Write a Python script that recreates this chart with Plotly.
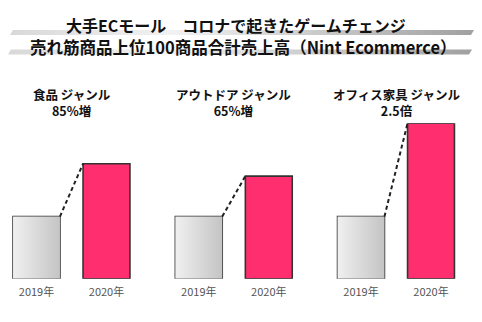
import plotly.graph_objects as go

# ---- data ----
genres = ["食品 ジャンル", "アウトドア ジャンル", "オフィス家具 ジャンル"]
growth_labels = ["85%増", "65%増", "2.5倍"]
years = ["2019年", "2020年"]
sales_2019 = [100, 100, 100]
sales_2020 = [185, 165, 250]
title_line1 = "大手ECモール　コロナで起きたゲームチェンジ"
title_line2 = "売れ筋商品上位100商品合計売上高（Nint Ecommerce）"

W, H = 482, 322
FONT = "Noto Sans CJK JP"
PINK = "#ff2e6e"
EDGE = "#333333"
BAR_W = 0.67

# group x-domains in pixels
group_dom_px = [(1.5, 141.5), (163.8, 303.8), (326.0, 466.0)]
y_dom = [1 - 278.7 / H, 1 - 123.3 / H]

fig = go.Figure()

# decorative stripes under titles (pixel axis) - drawn first
stripes = [
    ([13, 474, 471, 10, 13], [30, 30, 35, 35, 30]),
    ([11, 472, 469, 8, 11], [49.5, 49.5, 54.5, 54.5, 49.5]),
]
for sx, sy in stripes:
    fig.add_trace(go.Scatter(
        x=sx, y=sy, fill="toself", mode="none",
        fillgradient=dict(type="horizontal",
                          colorscale=[[0, "#d8d8d8"], [0.35, "#f2f2f2"], [1, "#a0a0a0"]]),
        hoverinfo="skip", showlegend=False, xaxis="x4", yaxis="y4"))

for i in range(3):
    xa = "x" if i == 0 else f"x{i+1}"
    ya = "y" if i == 0 else f"y{i+1}"
    v19, v20 = sales_2019[i], sales_2020[i]
    # gradient fill for 2019 bar
    fig.add_trace(go.Scatter(
        x=[-BAR_W / 2, BAR_W / 2, BAR_W / 2, -BAR_W / 2, -BAR_W / 2],
        y=[0, 0, v19, v19, 0],
        fill="toself", mode="none",
        fillgradient=dict(type="horizontal",
                          colorscale=[[0, "#f0f0f0"], [1, "#c4c4c4"]]),
        hoverinfo="skip", showlegend=False, xaxis=xa, yaxis=ya))
    fig.add_trace(go.Bar(
        x=[0, 1], y=[v19, v20], width=BAR_W,
        marker=dict(color=["rgba(0,0,0,0)", PINK],
                    line=dict(color=EDGE, width=1.6)),
        showlegend=False, xaxis=xa, yaxis=ya))
    fig.add_trace(go.Scatter(
        x=[BAR_W / 2, 1 - BAR_W / 2], y=[v19, v20], mode="lines",
        line=dict(color="#222222", width=2, dash="4px,3px"),
        showlegend=False, hoverinfo="skip", xaxis=xa, yaxis=ya))

    x0, x1 = group_dom_px[i]
    suffix = "" if i == 0 else str(i + 1)
    fig.layout["xaxis" + suffix] = dict(
        domain=[x0 / W, x1 / W], range=[-0.5, 1.5],
        tickvals=[0, 1], ticktext=years, showgrid=False, zeroline=False,
        showline=False, ticks="", ticklabelstandoff=5,
        tickfont=dict(size=11, color="#555555", family=FONT),
        anchor=ya, fixedrange=True)
    fig.layout["yaxis" + suffix] = dict(
        domain=y_dom, range=[0, 250], visible=False, anchor=xa, fixedrange=True)

    cx = (x0 + x1) / 2 / W
    fig.add_annotation(x=cx, y=1 - 102.8 / H, xref="paper", yref="paper",
                       text=f"<b>{genres[i]}</b><br><b>{growth_labels[i]}</b>",
                       showarrow=False, align="center",
                       font=dict(size=12.5, color="#111111", family=FONT),
                       xanchor="center", yanchor="middle")

fig.layout["xaxis4"] = dict(domain=[0, 1], range=[0, W], visible=False, anchor="y4", fixedrange=True)
fig.layout["yaxis4"] = dict(domain=[0, 1], range=[H, 0], visible=False, anchor="x4", fixedrange=True)

fig.add_annotation(x=236 / W, y=1 - 25 / H, xref="paper", yref="paper",
                   text=f"<b>{title_line1}</b>", showarrow=False,
                   font=dict(size=16, color="#111111", family=FONT),
                   xanchor="center", yanchor="middle")
fig.add_annotation(x=243.5 / W, y=1 - 46.5 / H, xref="paper", yref="paper",
                   text=f"<b>{title_line2}</b>", showarrow=False,
                   font=dict(size=16.5, color="#111111", family=FONT),
                   xanchor="center", yanchor="middle")

fig.update_layout(
    width=W, height=H, margin=dict(l=0, r=0, t=0, b=0),
    paper_bgcolor="white", plot_bgcolor="rgba(0,0,0,0)",
    barmode="overlay", showlegend=False,
    font=dict(family=FONT),
)
fig.write_html("out.html", config={"displayModeBar": False})
